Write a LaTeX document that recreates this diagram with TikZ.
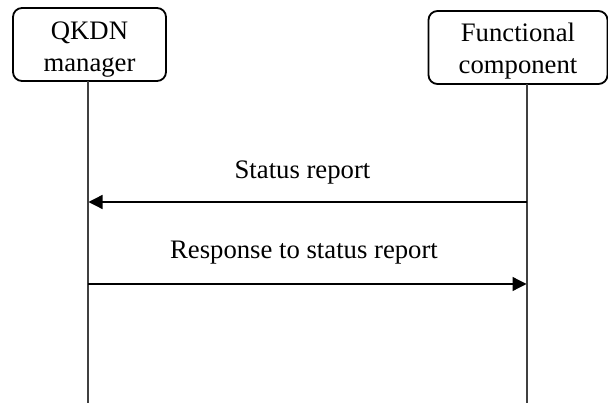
\documentclass[tikz,border=0pt]{standalone}
\usepackage{fontspec}
\setmainfont{Liberation Serif}
\usetikzlibrary{arrows.meta}
\newcommand{\boxtext}[3]{\raisebox{#1}[0pt][0pt]{\begin{tabular}{@{}c@{}}#2\\#3\end{tabular}}}
\begin{document}
\begin{tikzpicture}[x=1pt,y=-1pt,
  actor/.style={draw=black,line width=1.8pt,rounded corners=9pt,inner sep=0pt,
    font=\fontsize{26.7}{32}\selectfont,minimum height=73pt},
  lifeline/.style={draw=black!75,line width=1.1pt},
  msg/.style={draw=black,line width=1.3pt,-{Triangle[length=14pt,width=14pt]}},
  lbl/.style={font=\fontsize{26.7}{32}\selectfont,inner sep=0pt,anchor=base}]
\useasboundingbox (0,0) rectangle (608,403);
\node[actor,minimum width=153pt] (mgr) at (89.5,44.5) {\boxtext{-11pt}{QKDN}{manager}};
\node[actor,minimum width=179pt] (fc) at (518,47.5) {\boxtext{-10pt}{Functional}{component}};
\coordinate (mgrtop) at (88,81.4);
\coordinate (mgrbot) at (88,403);
\coordinate (fctop) at (527,84.4);
\coordinate (fcbot) at (527,403);
\draw[lifeline] (mgrtop) -- (mgrbot);
\draw[lifeline] (fctop) -- (fcbot);
\coordinate (a1s) at (527,202);
\coordinate (a1e) at (88.5,202);
\coordinate (a2s) at (88,284);
\coordinate (a2e) at (526.5,284);
\draw[msg] (a1s) -- (a1e);
\draw[msg] (a2s) -- (a2e);
\node[lbl] (l1) at (302.5,178.3) {Status report};
\node[lbl] (l2) at (304,258.3) {Response to status report};
\end{tikzpicture}
\end{document}
